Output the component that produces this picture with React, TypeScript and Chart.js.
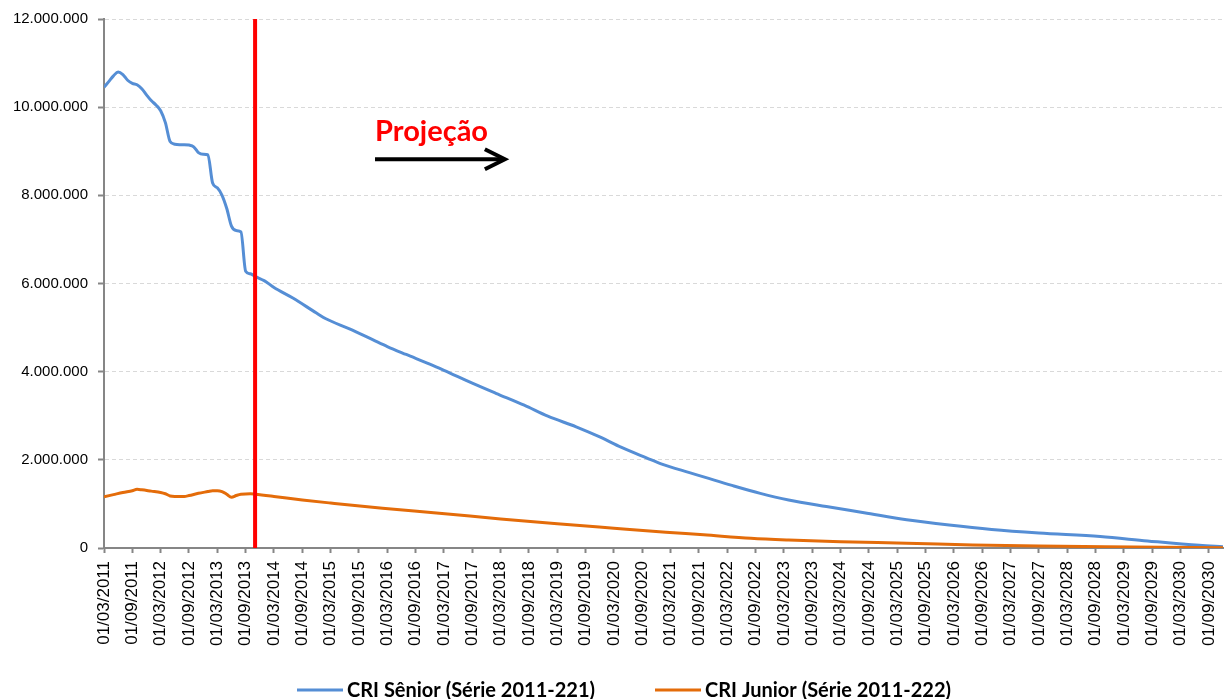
import React, { useEffect, useRef } from "react";
import { Chart, registerables } from "chart.js";

Chart.register(...registerables);

// ---- Data (values in reais) ----
const axisStart = "2011-03";
const axisEnd = "2030-12";
const cutoffDate = "2013-11";

const seniorDates = [
  "2011-03", "2011-04", "2011-05", "2011-06", "2011-07", "2011-08", "2011-09", "2011-10",
  "2011-11", "2011-12", "2012-01", "2012-02", "2012-03", "2012-04", "2012-05", "2012-06",
  "2012-07", "2012-08", "2012-09", "2012-10", "2012-11", "2012-12", "2013-01", "2013-02",
  "2013-03", "2013-04", "2013-05", "2013-06", "2013-07", "2013-08", "2013-09", "2013-10",
  "2013-11", "2014-01", "2014-03", "2014-07", "2014-12", "2015-02", "2015-07", "2015-12",
  "2016-03", "2016-07", "2016-12", "2017-03", "2017-09", "2018-02", "2018-08", "2019-01",
  "2019-07", "2019-12", "2020-04", "2020-10", "2021-01", "2021-07", "2022-04", "2022-10",
  "2023-04", "2023-12", "2024-08", "2025-05", "2026-02", "2026-11", "2027-09", "2028-10",
  "2029-08", "2030-07", "2030-12",
];
const seniorValues = [
  10450000, 10580000, 10710000, 10800000, 10740000, 10610000, 10540000, 10510000,
  10420000, 10280000, 10150000, 10050000, 9920000, 9650000, 9220000, 9160000,
  9150000, 9150000, 9140000, 9100000, 8970000, 8930000, 8920000, 8280000,
  8170000, 8000000, 7700000, 7300000, 7200000, 7170000, 6280000, 6220000,
  6160000, 6060000, 5910000, 5670000, 5330000, 5200000, 4970000, 4720000,
  4570000, 4390000, 4170000, 4030000, 3740000, 3510000, 3240000, 2990000,
  2750000, 2520000, 2310000, 2040000, 1910000, 1710000, 1420000, 1240000,
  1090000, 940000, 800000, 640000, 520000, 420000, 340000, 260000,
  160000, 60000, 30000,
];

const juniorDates = [
  "2011-03", "2011-05", "2011-07", "2011-09", "2011-10", "2011-11", "2012-01", "2012-03",
  "2012-04", "2012-05", "2012-06", "2012-08", "2012-09", "2012-11", "2013-01", "2013-02",
  "2013-03", "2013-04", "2013-05", "2013-06", "2013-07", "2013-08", "2013-10", "2013-11",
  "2014-03", "2014-09", "2015-03", "2016-02", "2017-02", "2018-03", "2019-03", "2020-03",
  "2021-02", "2021-10", "2022-08", "2023-04", "2024-03", "2025-05", "2026-07", "2027-09",
  "2028-11", "2030-12",
];
const juniorValues = [
  1160000, 1210000, 1260000, 1300000, 1330000, 1320000, 1290000, 1260000,
  1230000, 1180000, 1170000, 1170000, 1190000, 1240000, 1280000, 1300000,
  1300000, 1280000, 1220000, 1150000, 1190000, 1220000, 1230000, 1220000,
  1170000, 1090000, 1020000, 900000, 790000, 660000, 550000, 450000,
  360000, 300000, 220000, 180000, 140000, 110000, 70000, 45000,
  30000, 5000,
];

const yMax = 12000000;
const yStep = 2000000;
const xStepMonths = 6;

const seriesNames = ["CRI Sênior (Série 2011-221)", "CRI Junior (Série 2011-222)"];
const projectionLabel = "Projeção";

// ---- helpers ----
const monthIndex = (d: string) => {
  const [y, m] = d.split("-").map(Number);
  const [y0, m0] = axisStart.split("-").map(Number);
  return (y - y0) * 12 + (m - m0);
};
const monthLabel = (idx: number) => {
  const [y0, m0] = axisStart.split("-").map(Number);
  const total = y0 * 12 + (m0 - 1) + idx;
  const year = Math.floor(total / 12);
  const month = (total % 12) + 1;
  return `01/${String(month).padStart(2, "0")}/${year}`;
};
const fmtThousands = (v: number) =>
  String(Math.round(v)).replace(/\B(?=(\d{3})+(?!\d))/g, ".");

const toPoints = (dates: string[], values: number[]) =>
  dates.map((d, i) => ({ x: monthIndex(d), y: values[i] }));

const BLUE = "#558ED5";
const ORANGE = "#E46C0A";
const RED = "#FF0000";
const AXIS = "#868686";

const W = 1224;
const H = 699;

const overlayPlugin = {
  id: "overlay",
  afterDraw(chart: any) {
    const ctx = chart.ctx as CanvasRenderingContext2D;
    const xs = chart.scales.x;
    const ys = chart.scales.y;
    ctx.save();
    // Projection label
    const tx = xs.getPixelForValue(57.4);
    const ty = ys.getPixelForValue(9234000);
    ctx.fillStyle = RED;
    ctx.font = "bold 29px Lato";
    ctx.textBaseline = "alphabetic";
    ctx.textAlign = "left";
    ctx.fillText(projectionLabel, tx, ty);
    // Arrow
    const ax1 = xs.getPixelForValue(57.4);
    const ax2 = xs.getPixelForValue(84.9);
    const ay = ys.getPixelForValue(8820000);
    ctx.strokeStyle = "#000";
    ctx.lineWidth = 4;
    ctx.lineCap = "butt";
    ctx.beginPath();
    ctx.moveTo(ax1, ay);
    ctx.lineTo(ax2 - 2, ay);
    ctx.stroke();
    ctx.lineJoin = "miter";
    ctx.beginPath();
    ctx.moveTo(ax2 - 20, ay - 10);
    ctx.lineTo(ax2, ay);
    ctx.lineTo(ax2 - 20, ay + 10);
    ctx.stroke();

    // Legend
    const legendY = 690;
    const items = [
      { x: 297, color: BLUE, text: seriesNames[0] },
      { x: 655, color: ORANGE, text: seriesNames[1] },
    ];
    ctx.font = "bold 20px Lato";
    ctx.fillStyle = "#000";
    for (const it of items) {
      ctx.strokeStyle = it.color;
      ctx.lineWidth = 3;
      ctx.beginPath();
      ctx.moveTo(it.x, legendY);
      ctx.lineTo(it.x + 46, legendY);
      ctx.stroke();
      ctx.fillText(it.text, it.x + 50, 697);
    }
    ctx.restore();
  },
};

export default function App() {
  const ref = useRef<HTMLCanvasElement | null>(null);

  useEffect(() => {
    if (!ref.current) return;
    const cut = monthIndex(cutoffDate);
    const chart = new Chart(ref.current, {
      type: "line",
      data: {
        datasets: [
          {
            label: "Projeção",
            data: [
              { x: cut, y: 0 },
              { x: cut, y: yMax },
            ],
            borderColor: RED,
            borderWidth: 4,
            pointRadius: 0,
          },
          {
            label: seriesNames[1],
            data: toPoints(juniorDates, juniorValues),
            borderColor: ORANGE,
            borderWidth: 3,
            pointRadius: 0,
            cubicInterpolationMode: "monotone",
          },
          {
            label: seriesNames[0],
            data: toPoints(seniorDates, seniorValues),
            borderColor: BLUE,
            borderWidth: 3,
            pointRadius: 0,
            cubicInterpolationMode: "monotone",
          },
        ],
      },
      options: {
        responsive: false,
        animation: false,
        events: [],
        layout: { padding: { top: 19, right: 1, left: 0, bottom: 0 } },
        plugins: {
          legend: { display: false },
          tooltip: { enabled: false },
        },
        scales: {
          x: {
            type: "linear",
            min: 0,
            max: monthIndex(axisEnd),
            afterFit: (s: any) => {
              s.height = 151;
              s.paddingLeft = 0;
              s.paddingRight = 0;
            },
            ticks: {
              stepSize: xStepMonths,
              autoSkip: false,
              includeBounds: false,
              maxTicksLimit: 200,
              maxRotation: 90,
              minRotation: 90,
              padding: 8,
              color: "#000",
              font: { family: "Liberation Sans", size: 17 },
              callback: (v: any) => monthLabel(Number(v)),
            },
            grid: {
              drawOnChartArea: false,
              tickLength: 5,
              tickColor: AXIS,
              tickWidth: 2,
            },
            border: { color: AXIS, width: 2 },
          },
          y: {
            min: 0,
            max: yMax,
            afterFit: (s: any) => {
              s.width = 104;
            },
            ticks: {
              stepSize: yStep,
              padding: 10,
              color: "#000",
              font: { family: "Liberation Sans", size: 15 },
              callback: (v: any) => fmtThousands(Number(v)),
            },
            grid: {
              color: "#D9D9D9",
              lineWidth: 1,
              tickLength: 6,
              tickColor: AXIS,
              tickWidth: 2,
              tickBorderDash: [],
            },
            border: { color: AXIS, width: 2, dash: [4, 3] },
          },
        },
      },
      plugins: [overlayPlugin],
    } as any);
    return () => chart.destroy();
  }, []);

  return (
    <div style={{ position: "fixed", left: 0, top: 0, width: W, height: H, background: "#fff" }}>
      <canvas ref={ref} width={W} height={H} style={{ display: "block" }} />
    </div>
  );
}
